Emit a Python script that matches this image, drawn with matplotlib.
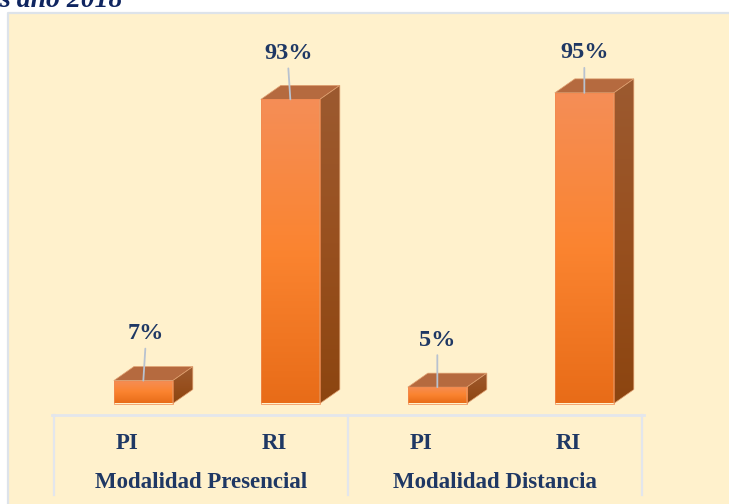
import numpy as np
import matplotlib
matplotlib.use('Agg')
import matplotlib.pyplot as plt
from matplotlib.colors import LinearSegmentedColormap
from matplotlib.lines import Line2D
from matplotlib.patches import Polygon, Rectangle

# Data
categories = ['PI', 'RI', 'PI', 'RI']
groups = ['Modalidad Presencial', 'Modalidad Distancia']
values = [7, 93, 5, 95]
labels = ['7%', '93%', '5%', '95%']

# Layout of the value labels, in pixels from the top of each bar
label_offsets = [(2, 47), (-2, 46), (0, 47), (0, 40)]
leader_ends = [(2, 32), (-2, 31), (0, 32), (0, 25)]

W, H = 729, 504
NAVY = '#1F3864'
FONT = 'Liberation Serif'

fig = plt.figure(figsize=(W / 100, H / 100), dpi=100, facecolor='white')


# Pixel helpers for the frame, y measured from the top of the picture
def fx(px):
    return px / W


def fy(py):
    return 1 - py / H


# Cream panel with a pale border on the left and top
fig.add_artist(Rectangle((fx(8), 0), 1 - fx(8), fy(13), transform=fig.transFigure,
                         facecolor='#FFF1CC', edgecolor='none', zorder=-3))
fig.add_artist(Line2D([fx(8), fx(8), 1], [0, fy(13), fy(13)], color='#DDE3EA', lw=1.6, zorder=-2))

# Piece of the title that is cut by the top of the picture
fig.text(fx(-1), fy(7), 's año 2018', family=FONT, weight='bold', style='italic',
         fontsize=20, color='#0F2560', va='baseline', ha='left')

# Axes: 4 categories over 54-642 px, floor of the bars at 403.5 px
px_per_unit = 3.27
ax = fig.add_axes([fx(54), fy(415), fx(588), (415 - 14) / H])
ax.set_xlim(-0.5, 3.5)
ax.set_ylim(-(415 - 403.5) / px_per_unit, (403.5 - 14) / px_per_unit)
ax.patch.set_alpha(0)
for side in ['top', 'left', 'right', 'bottom']:
    ax.spines[side].set_visible(False)
ax.set_yticks([])
ax.set_xticks(range(len(categories)))
ax.set_xticklabels(categories, family=FONT, weight='bold', fontsize=16.5, color=NAVY)
ax.tick_params(axis='x', length=0, pad=13)

# Table lines under the chart
line_color = '#E3E6EC'
fig.add_artist(Line2D([fx(52), fx(644)], [fy(415), fy(415)], color=line_color, lw=2, zorder=-1))
for px in [54, 348, 642]:
    fig.add_artist(Line2D([fx(px), fx(px)], [fy(415), fy(495)], color=line_color, lw=1.6, zorder=-1))

for i, name in enumerate(groups):
    ax.annotate(name, xy=(2 * i + 0.5, 0), xycoords=('data', 'axes fraction'),
                xytext=(0, -68), textcoords='offset pixels', ha='center', va='center',
                family=FONT, weight='bold', fontsize=16.5, color=NAVY)

# Fake 3D bars
front_cmap = LinearSegmentedColormap.from_list('front', ['#F58E57', '#FB8430', '#E86C18'])
side_cmap = LinearSegmentedColormap.from_list('side', ['#9C5A30', '#98501F', '#8C4510'])
bar_w = 59 / 147
left_shift = -0.093
dx = 20 / 147
dy = 14 / px_per_unit
grad = np.linspace(0, 1, 256).reshape(-1, 1)

for i, v in enumerate(values):
    x0 = i + left_shift
    x1 = x0 + bar_w

    top = Polygon([(x0, v), (x1, v), (x1 + dx, v + dy), (x0 + dx, v + dy)],
                  facecolor='#B56A3F', edgecolor='#E0A070', lw=0.5, zorder=2)
    ax.add_patch(top)

    side = Polygon([(x1, 0), (x1 + dx, dy), (x1 + dx, v + dy), (x1, v)],
                   facecolor='none', edgecolor='#E0A070', lw=0.5, zorder=3)
    ax.add_patch(side)
    im = ax.imshow(grad, extent=(x1, x1 + dx, 0, v + dy), aspect='auto', cmap=side_cmap, zorder=2)
    im.set_clip_path(side)

    front = Rectangle((x0, 0), bar_w, v, facecolor='none', edgecolor='#F08A50', lw=0.5, zorder=3)
    ax.add_patch(front)
    im = ax.imshow(grad, extent=(x0, x1, 0, v), aspect='auto', cmap=front_cmap, zorder=2)
    im.set_clip_path(front)

    # Label with its leader line
    ax.annotate(labels[i], xy=(x0 + bar_w / 2, v), xytext=label_offsets[i], textcoords='offset pixels',
                ha='center', va='center', family=FONT, weight='bold', fontsize=17.5, color=NAVY,
                zorder=5)
    ax.annotate('', xy=(x0 + bar_w / 2, v), xytext=leader_ends[i], textcoords='offset pixels',
                arrowprops=dict(arrowstyle='-', color='#B8C2D0', lw=1.3, shrinkA=0, shrinkB=0),
                zorder=4)

ax.set_xlim(-0.5, 3.5)
ax.set_ylim(-(415 - 403.5) / px_per_unit, (403.5 - 14) / px_per_unit)

fig.savefig('out.png', dpi=100)
